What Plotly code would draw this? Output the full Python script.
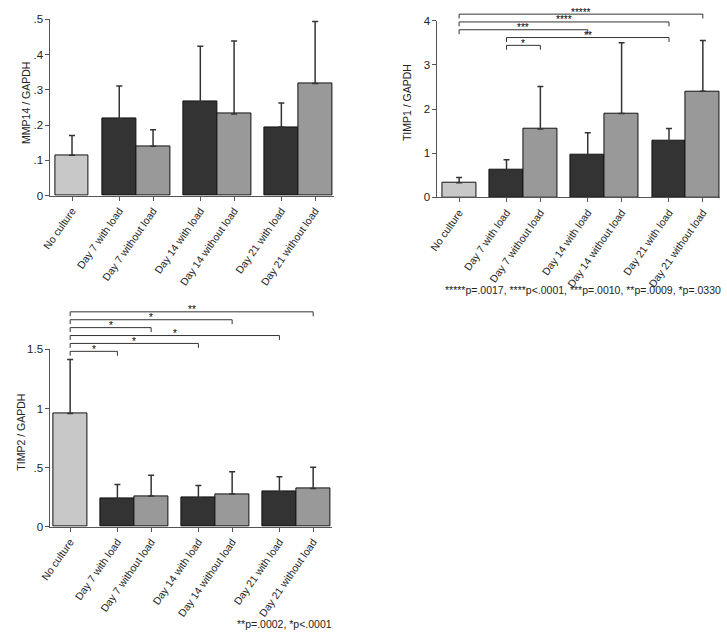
import plotly.graph_objects as go

# ---------------- data ----------------
categories = ["No culture", "Day 7 with load", "Day 7 without load",
              "Day 14 with load", "Day 14 without load",
              "Day 21 with load", "Day 21 without load"]
conditions = ["control", "load", "noload", "load", "noload", "load", "noload"]
groups = [[0], [1, 2], [3, 4], [5, 6]]

mmp14_mean = [0.115, 0.218, 0.140, 0.266, 0.232, 0.195, 0.318]
mmp14_err = [0.056, 0.093, 0.047, 0.158, 0.207, 0.068, 0.176]

timp1_mean = [0.33, 0.62, 1.55, 0.96, 1.90, 1.28, 2.40]
timp1_err = [0.12, 0.23, 0.96, 0.50, 1.60, 0.28, 1.15]

timp2_mean = [0.958, 0.238, 0.260, 0.246, 0.277, 0.296, 0.324]
timp2_err = [0.456, 0.119, 0.175, 0.103, 0.188, 0.127, 0.180]

mmp14_ticks = [0, 0.1, 0.2, 0.3, 0.4, 0.5]
mmp14_ticktext = ["0", ".1", ".2", ".3", ".4", ".5"]
timp1_ticks = [0, 1, 2, 3, 4]
timp1_ticktext = ["0", "1", "2", "3", "4"]
timp2_ticks = [0, 0.5, 1, 1.5]
timp2_ticktext = ["0", ".5", "1", "1.5"]

timp1_pairs = [(0, 6), (0, 5), (0, 3), (1, 5), (1, 2)]
timp1_marks = ["*****", "****", "***", "**", "*"]
timp2_pairs = [(0, 6), (0, 4), (0, 2), (0, 5), (0, 3), (0, 1)]
timp2_marks = ["**", "*", "*", "*", "*", "*"]

timp1_note = "*****p=.0017, ****p<.0001, ***p=.0010, **p=.0009, *p=.0330"
timp2_note = "**p=.0002, *p<.0001"

# ---------------- layout helpers ----------------
W, H = 727, 638
FONT = "Arial, Liberation Sans, sans-serif"
AXC = "#555555"
TXT = "#222222"
color_map = {"control": "#c8c8c8", "load": "#333333", "noload": "#999999"}
bar_colors = [color_map[c] for c in conditions]

# bar positions: consecutive within a group, a gap between groups
GAP = 0.4
xpos = [0.0] * len(categories)
cur = 0.0
for gi, g in enumerate(groups):
    if gi > 0:
        cur += GAP
    for idx in g:
        xpos[idx] = cur
        cur += 1.0


def fx(px):
    return px / W


def fy(py):
    return 1 - py / H


fig = go.Figure()

panels = [
    dict(mean=mmp14_mean, err=mmp14_err, xa="x", ya="y"),
    dict(mean=timp1_mean, err=timp1_err, xa="x2", ya="y2"),
    dict(mean=timp2_mean, err=timp2_err, xa="x3", ya="y3"),
]
for p in panels:
    fig.add_trace(go.Bar(
        x=xpos, y=p["mean"], width=1.0,
        marker=dict(color=bar_colors, line=dict(color="#111111", width=1)),
        error_y=dict(type="data", array=p["err"], arrayminus=[0] * len(p["err"]),
                     symmetric=False, color="#333333", thickness=1.5, width=3),
        xaxis=p["xa"], yaxis=p["ya"], showlegend=False, hoverinfo="skip",
    ))

common_x = dict(showline=True, linecolor=AXC, linewidth=1, ticks="outside",
                ticklen=4, tickcolor=AXC, showgrid=False, zeroline=False,
                tickvals=xpos, ticktext=categories, tickangle=-55,
                tickfont=dict(family=FONT, size=10.5, color=TXT))
common_y = dict(showline=True, linecolor=AXC, linewidth=1, ticks="outside",
                ticklen=4, tickcolor=AXC, showgrid=False, zeroline=False,
                tickfont=dict(family=FONT, size=11.5, color=TXT))

# panel placement (pixel positions converted to paper fractions)
d1x = [fx(40), fx(328)]
d1y = [fy(193.3), fy(13.7)]
d2x = [fx(433), fx(720)]
d2y = [fy(195), fy(15)]
d3x = [fx(40), fx(326)]
d3y = [fy(530.7), fy(350)]

fig.update_layout(
    width=W, height=H, margin=dict(l=0, r=0, t=0, b=0),
    paper_bgcolor="white", plot_bgcolor="white",
    font=dict(family=FONT, color=TXT),
    bargap=0,
    xaxis=dict(common_x, domain=d1x, range=[-0.64, 7.76], anchor="y"),
    yaxis=dict(common_y, domain=d1y, range=[0, 0.5], anchor="x",
               tickvals=mmp14_ticks, ticktext=mmp14_ticktext),
    xaxis2=dict(common_x, domain=d2x, range=[-0.64, 7.71], anchor="y2"),
    yaxis2=dict(common_y, domain=d2y, range=[0, 4], anchor="x2",
                tickvals=timp1_ticks, ticktext=timp1_ticktext),
    xaxis3=dict(common_x, domain=d3x, range=[-0.585, 7.76], anchor="y3"),
    yaxis3=dict(common_y, domain=d3y, range=[0, 1.5], anchor="x3",
                tickvals=timp2_ticks, ticktext=timp2_ticktext),
)

annotations = []
shapes = []

# y-axis titles
for text, xc, yc in [("MMP14 / GAPDH", 15, 99), ("TIMP1 / GAPDH", 402, 98),
                     ("TIMP2 / GAPDH", 10, 434)]:
    annotations.append(dict(text=text, x=fx(xc), y=fy(yc), xref="paper", yref="paper",
                            textangle=-90, showarrow=False, xanchor="center",
                            yanchor="middle", font=dict(family=FONT, size=10.5, color=TXT)))

# significance brackets
DROP = 4.5
for pairs, marks, xref, top_px, step in [(timp1_pairs, timp1_marks, "x2", 8.3, 7.95),
                                         (timp2_pairs, timp2_marks, "x3", 311.7, 8.05)]:
    for i, ((a, b), m) in enumerate(zip(pairs, marks)):
        lvl = top_px + i * step
        y1 = fy(lvl)
        y0 = fy(lvl + DROP)
        xa, xb = xpos[a], xpos[b]
        shapes.append(dict(type="path", xref=xref, yref="paper",
                           path=f"M {xa},{y0} L {xa},{y1} L {xb},{y1} L {xb},{y0}",
                           line=dict(color="#333333", width=1)))
        annotations.append(dict(text=m, x=(xa + xb) / 2, y=y1, xref=xref, yref="paper",
                                showarrow=False, xanchor="center", yanchor="middle",
                                yshift=2, font=dict(family=FONT, size=10, color="#000000")))

# footnotes
annotations.append(dict(text=timp1_note, x=fx(723), y=fy(289), xref="paper", yref="paper",
                        showarrow=False, xanchor="right", yanchor="middle",
                        font=dict(family=FONT, size=10.5, color=TXT)))
annotations.append(dict(text=timp2_note, x=fx(328), y=fy(630), xref="paper", yref="paper",
                        showarrow=False, xanchor="right", yanchor="middle",
                        font=dict(family=FONT, size=10.5, color=TXT)))

fig.update_layout(annotations=annotations, shapes=shapes)

fig.write_html("out.html", config={"displayModeBar": False},
               post_script="document.body.style.margin='0px';document.body.style.overflow='hidden';")
